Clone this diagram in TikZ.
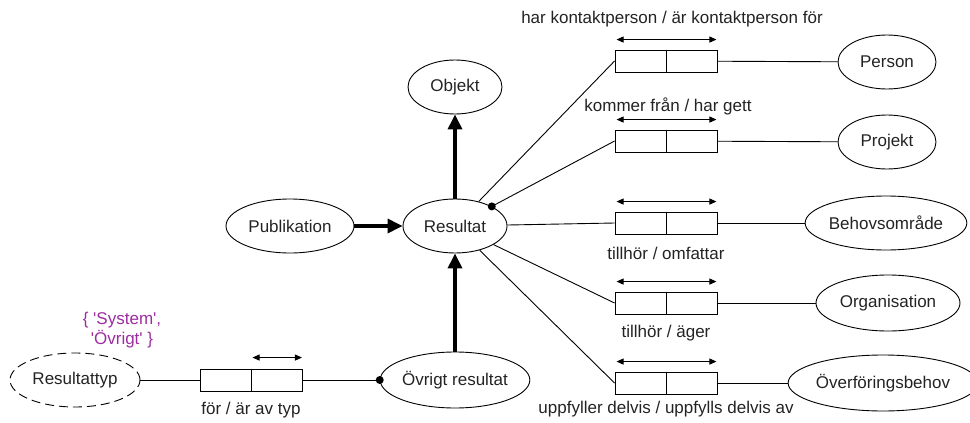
\documentclass[tikz,border=0pt]{standalone}
\usepackage{fontspec}
\setmainfont{Liberation Sans}
\usetikzlibrary{shapes.geometric,arrows.meta}
\definecolor{enumpurple}{RGB}{155,45,160}
\definecolor{ink}{RGB}{35,35,35}
\begin{document}
\begin{tikzpicture}[x=1pt,y=-1pt,
  font=\fontsize{17}{20}\selectfont,
  ent/.style={draw, ellipse, inner sep=0pt, line width=0.9pt, text=ink},
  linkbox/.style={draw, rectangle, minimum width=102pt, minimum height=22pt, inner sep=0pt, line width=0.9pt},
  conn/.style={line width=0.9pt},
  isa/.style={line width=3.5pt, -{Triangle[length=15pt,width=14pt]}},
  twoway/.style={line width=0.9pt, {Triangle[length=7pt,width=6pt]}-{Triangle[length=7pt,width=6pt]}},
  dot/.style={circle, fill, inner sep=0pt, minimum size=8pt},
  lbl/.style={inner sep=0pt, text=ink}
]
\useasboundingbox (0,0) rectangle (970,423);

% entities
\node[ent, minimum width=94pt,  minimum height=54pt] (objekt) at (455,87)  {Objekt};
\node[ent, minimum width=104pt, minimum height=54pt] (res)    at (455,226) {Resultat};
\node[ent, minimum width=128pt, minimum height=54pt] (pub)    at (290,226) {Publikation};
\node[ent, minimum width=146pt, minimum height=56pt] (ovr)    at (455,380) {Övrigt resultat};
\node[ent, dashed, dash pattern=on 9pt off 5pt, minimum width=130pt, minimum height=54pt] (rtyp) at (75,380) {Resultattyp};

\node[ent, minimum width=98pt,  minimum height=54pt] (person) at (887,62)  {Person};
\node[ent, minimum width=98pt,  minimum height=54pt] (proj)   at (887,142) {Projekt};
\node[ent, minimum width=157pt, minimum height=54pt] (behov)  at (886,223) {Behovsområde};
\node[ent, minimum width=144pt, minimum height=56pt] (org)    at (888,303) {Organisation};
\node[ent, minimum width=168pt, minimum height=56pt] (overf)  at (883,383) {Överföringsbehov};

% relationship boxes
\node[linkbox] (b0) at (251.5,380) {};
\node[linkbox] (b1) at (666,61)  {};
\node[linkbox] (b2) at (666,141) {};
\node[linkbox] (b3) at (666,223) {};
\node[linkbox] (b4) at (666,303) {};
\node[linkbox] (b5) at (666,383) {};
\foreach \b in {b0,b1,b2,b3,b4,b5}
  \draw[conn] (\b.north) -- (\b.south);

% reading-direction arrows above the boxes
\foreach \b in {b1,b2,b3,b4,b5}
  \draw[twoway] ([xshift=2pt,yshift=10pt]\b.north west) -- ([xshift=-1pt,yshift=10pt]\b.north east);
\draw[twoway] ([xshift=1pt,yshift=11pt]b0.north) -- ([xshift=-1pt,yshift=11pt]b0.north east);

% relationship labels
\node[lbl] (l1) at (672,19)  {har kontaktperson / är kontaktperson för};
\node[lbl] (l2) at (668,106) {kommer från / har gett};
\node[lbl] (l3) at (666,253) {tillhör / omfattar};
\node[lbl] (l4) at (666,333) {tillhör / äger};
\node[lbl] (l5) at (666,409) {uppfyller delvis / uppfylls delvis av};
\node[lbl] (l0) at (251,410) {för / är av typ};
\node[inner sep=0pt, align=center, text=enumpurple] (enum) at (122,330)
  {\{ \textquotesingle System\textquotesingle,\\ \textquotesingle Övrigt\textquotesingle\ \}};

% generalisation arrows
\draw[isa] (pub) -- (res);
\draw[isa] (res) -- (objekt);
\draw[isa] (ovr) -- (res);

% associations
\draw[conn] (res) -- (b1.west);
\draw[conn] (res) -- (b2.west) node[dot, pos=0] (d2) {};
\draw[conn] (res) -- (b3.west);
\draw[conn] (res) -- (b4.west);
\draw[conn] (res) -- (b5.west);
\draw[conn] (b1) -- (person);
\draw[conn] (b2) -- (proj);
\draw[conn] (b3) -- (behov);
\draw[conn] (b4) -- (org);
\draw[conn] (b5) -- (overf);
\draw[conn] (rtyp) -- (b0);
\draw[conn] (b0) -- (ovr) node[dot, pos=1] (d0) {};
\end{tikzpicture}
\end{document}
